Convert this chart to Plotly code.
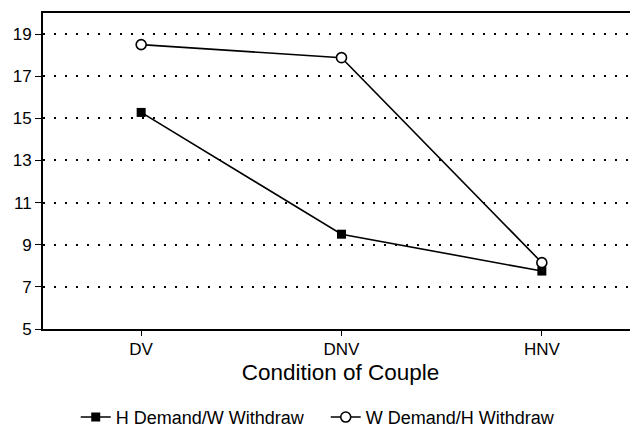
import plotly.graph_objects as go

conditions = ["DV", "DNV", "HNV"]
h_demand = [15.28, 9.5, 7.75]
w_demand = [18.5, 17.88, 8.15]
y_ticks = [5, 7, 9, 11, 13, 15, 17, 19]

fig = go.Figure()
fig.add_trace(go.Scatter(
    x=conditions, y=h_demand, mode="lines+markers",
    name="H Demand/W Withdraw",
    line=dict(color="black", width=1.6),
    marker=dict(symbol="square", size=9, color="black"),
))
fig.add_trace(go.Scatter(
    x=conditions, y=w_demand, mode="lines+markers",
    name="W Demand/H Withdraw",
    line=dict(color="black", width=1.6),
    marker=dict(symbol="circle", size=10, color="white",
                line=dict(color="black", width=1.6)),
))

font = "Liberation Sans, Arial, sans-serif"
# page body adds an 8px margin, so the figure is 8px smaller on each side
fig.update_layout(
    width=630, height=419,
    margin=dict(l=35, r=0, t=5, b=98, autoexpand=False),
    paper_bgcolor="white", plot_bgcolor="white",
    font=dict(family=font, color="black", size=14),
    showlegend=True,
    legend=dict(orientation="h", x=0.055, y=-0.221, xanchor="left", yanchor="top",
                font=dict(size=18, family=font, color="black"),
                entrywidth=205, itemwidth=30, bgcolor="rgba(0,0,0,0)"),
    xaxis=dict(
        type="category", range=[-0.49, 2.48], automargin=False,
        showline=True, linecolor="black", linewidth=2, mirror=True,
        ticks="outside", ticklen=5, tickcolor="black", tickwidth=1,
        showgrid=False, zeroline=False,
        tickfont=dict(size=17), ticklabelstandoff=-1,
        title=dict(text="Condition of Couple", font=dict(size=22.5), standoff=6),
    ),
    yaxis=dict(
        range=[5, 20], tickvals=y_ticks, automargin=False,
        showline=True, linecolor="black", linewidth=2,
        ticks="outside", ticklen=6, tickcolor="black", tickwidth=1,
        showgrid=True, gridcolor="black", gridwidth=1.5, griddash="1.5px,9.5px",
        zeroline=False, tickfont=dict(size=17),
    ),
)

fig.write_html("out.html")
